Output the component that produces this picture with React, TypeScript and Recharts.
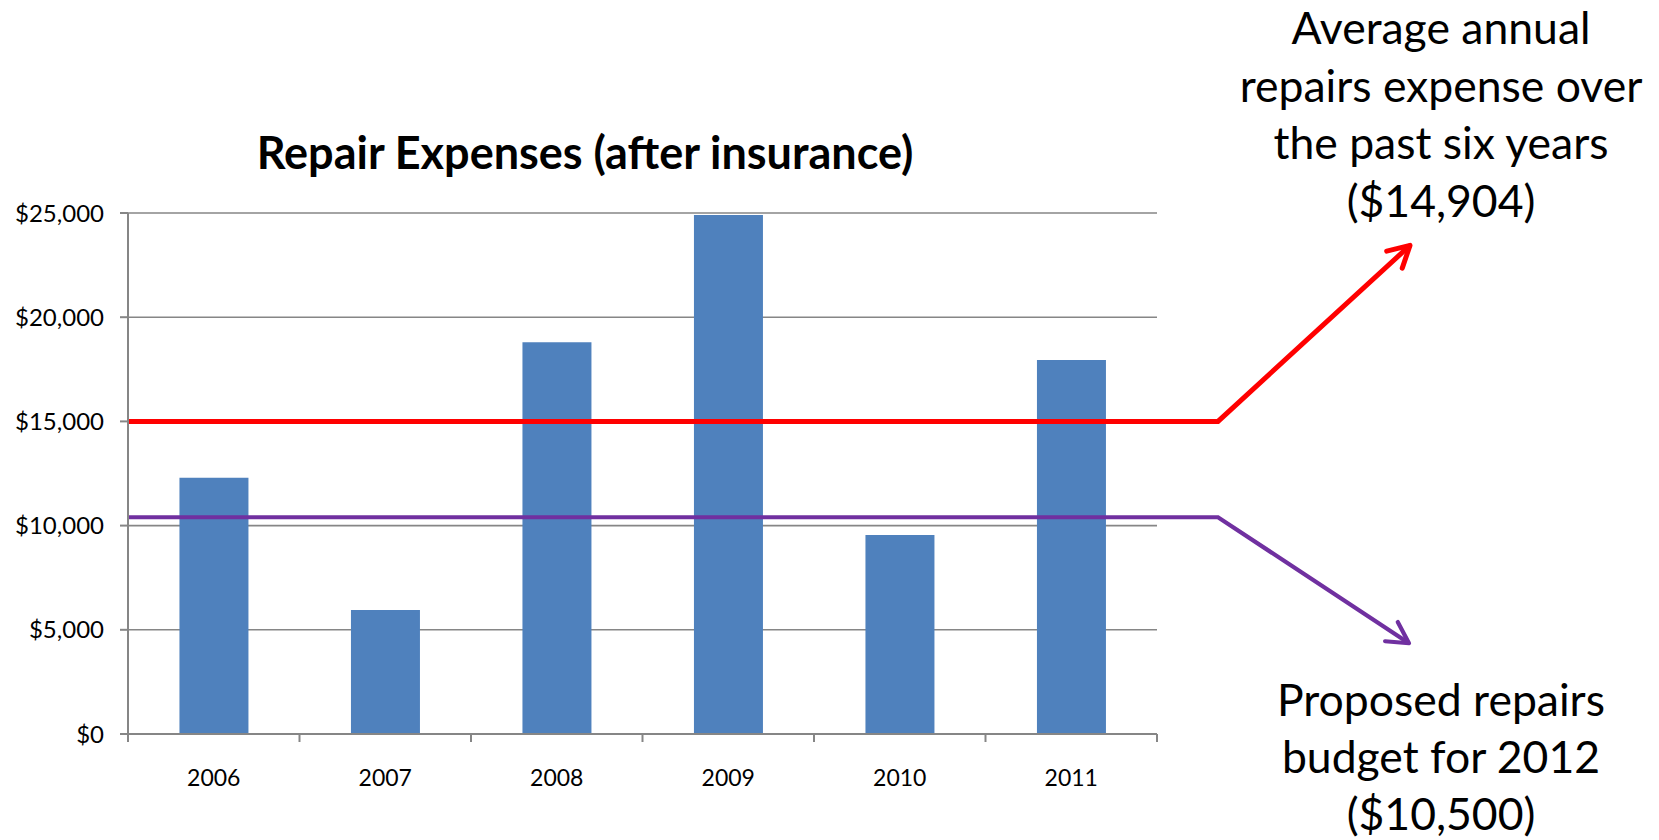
import { BarChart, Bar, XAxis, YAxis, CartesianGrid, ReferenceLine } from "recharts";

const years = ["2006", "2007", "2008", "2009", "2010", "2011"];
const expenses = [12300, 5950, 18800, 24900, 9550, 17950];
const yTicks = [0, 5000, 10000, 15000, 20000, 25000];
// levels where the two horizontal lines are drawn
const averageLevel = 15000;
const budgetLevel = 10400;
const titleText = "Repair Expenses (after insurance)";
const averageText = ["Average annual", "repairs expense over", "the past six years", "($14,904)"];
const budgetText = ["Proposed repairs", "budget for 2012", "($10,500)"];

const data = years.map((year, i) => ({ year, expense: expenses[i] }));

const W = 1659;
const H = 840;
const margin = { top: 213, right: 502, bottom: 46, left: 0 };
const yAxisWidth = 128;
const band = (W - margin.left - margin.right - yAxisWidth) / years.length;
const grey = "#868686";
const font = "Lato, 'Open Sans', sans-serif";

const money = (v: number) => "$" + v.toLocaleString("en-US");

function YearTick(props: any) {
  const { x, y, payload, index } = props;
  const left = x - band / 2;
  const right = x + band / 2;
  return (
    <g>
      <line x1={left} y1={y} x2={left} y2={y + 8} stroke={grey} strokeWidth={2} />
      {index === years.length - 1 && (
        <line x1={right} y1={y} x2={right} y2={y + 8} stroke={grey} strokeWidth={2} />
      )}
      <text x={x} y={y + 52} textAnchor="middle" fontSize={23} fill="#000">
        {payload.value}
      </text>
    </g>
  );
}

function arrowShape(color: string, width: number, dx: number, dy: number) {
  return (props: any) => {
    const { x1, y1, x2 } = props;
    const bend = x2 + 61;
    const tipX = bend + dx;
    const tipY = y1 + dy;
    const len = Math.hypot(dx, dy);
    const ux = dx / len;
    const uy = dy / len;
    const head = 24;
    const a = 0.5;
    const w1x = tipX - head * (ux * Math.cos(a) - uy * Math.sin(a));
    const w1y = tipY - head * (ux * Math.sin(a) + uy * Math.cos(a));
    const w2x = tipX - head * (ux * Math.cos(-a) - uy * Math.sin(-a));
    const w2y = tipY - head * (ux * Math.sin(-a) + uy * Math.cos(-a));
    return (
      <g>
        <path d={`M${x1},${y1} H${bend} L${tipX},${tipY}`} fill="none" stroke={color} strokeWidth={width} />
        <path
          d={`M${w1x},${w1y} L${tipX},${tipY} L${w2x},${w2y}`}
          fill="none"
          stroke={color}
          strokeWidth={width}
          strokeLinecap="round"
          strokeLinejoin="round"
        />
      </g>
    );
  };
}

export default function App() {
  return (
    <div style={{ position: "absolute", left: 0, top: 0, width: W, height: H, background: "#fff", fontFamily: font }}>
      <BarChart width={W} height={H} data={data} margin={margin} barCategoryGap="30%">
        <CartesianGrid vertical={false} stroke={grey} strokeWidth={1.6} />
        <XAxis
          dataKey="year"
          axisLine={{ stroke: grey, strokeWidth: 2 }}
          tickLine={false}
          tickSize={0}
          tickMargin={0}
          height={60}
          interval={0}
          tick={<YearTick />}
        />
        <YAxis
          width={yAxisWidth}
          domain={[0, 25000]}
          ticks={yTicks}
          tickFormatter={money}
          axisLine={{ stroke: grey, strokeWidth: 2 }}
          tickLine={{ stroke: grey, strokeWidth: 2 }}
          tickSize={8}
          tickMargin={16}
          tick={{ fill: "#000", fontSize: 24 }}
        />
        <Bar dataKey="expense" fill="#4F81BD" isAnimationActive={false} />
        <ReferenceLine y={averageLevel} ifOverflow="visible" shape={arrowShape("#FF0000", 5, 192, -176)} />
        <ReferenceLine y={budgetLevel} ifOverflow="visible" shape={arrowShape("#7030A0", 4.2, 191, 126)} />
      </BarChart>
      <svg width={W} height={H} style={{ position: "absolute", left: 0, top: 0, pointerEvents: "none" }}>
        <text x={585} y={169} textAnchor="middle" fontSize={45} fontWeight={700} fill="#000">
          {titleText}
        </text>
        {averageText.map((line, i) => (
          <text key={line} x={1441} y={44 + i * 57.5} textAnchor="middle" fontSize={44.5} fill="#000">
            {line}
          </text>
        ))}
        {budgetText.map((line, i) => (
          <text key={line} x={1441} y={716 + i * 57} textAnchor="middle" fontSize={44.5} fill="#000">
            {line}
          </text>
        ))}
      </svg>
    </div>
  );
}
